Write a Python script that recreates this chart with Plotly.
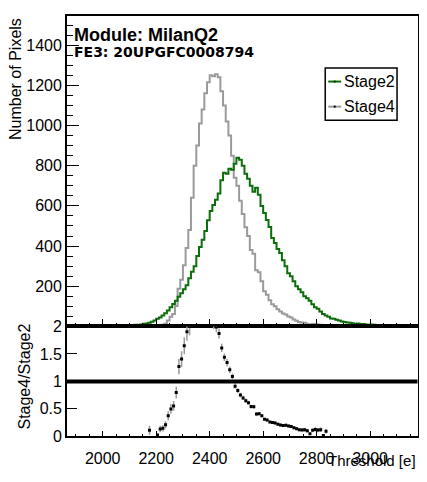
import math
import plotly.graph_objects as go

# ---------------- data ----------------
bin_low = list(range(2050, 3100, 10))  # lower bin edges, width 10
bin_width = 10

stage2 = [0, 2, 3, 4, 3, 5, 6, 8, 7, 10,
          13, 15, 18, 24, 30, 38, 45, 55, 66, 80,
          96, 112, 128, 148, 165, 185, 205, 240, 272, 300,
          350, 395, 432, 475, 528, 575, 605, 630, 662, 727,
          765, 760, 785, 780, 810, 840, 830, 800, 760, 735,
          700, 670, 690, 655, 600, 565, 530, 495, 440, 415,
          385, 365, 330, 300, 265, 250, 225, 200, 185, 170,
          150, 140, 128, 110, 95, 88, 75, 62, 55, 48,
          40, 38, 33, 30, 25, 22, 20, 18, 16, 14,
          15, 12, 12, 10, 9, 10, 8, 6, 7, 5,
          4, 3, 3, 2, 1]

stage4 = [0, 0, 0, 0, 0, 0, 0, 0, 0, 0,
          0, 0, 2, 0, 0, 1, 6, 8, 14, 30,
          48, 62, 102, 188, 232, 305, 390, 480, 640, 800,
          900, 1010, 1080, 1160, 1215, 1250, 1245, 1255, 1240, 1170,
          1100, 1020, 950, 850, 740, 700, 625, 560, 494, 450,
          380, 362, 280, 270, 225, 175, 158, 130, 110, 100,
          85, 75, 65, 60, 50, 45, 35, 28, 22, 20,
          18, 14, 6, 12, 12, 10, 9, 1, 5, 0,
          0, 0, 0, 0, 0, 0, 0, 0, 0, 0,
          0, 0, 0, 0, 0, 0, 0, 0, 0, 0,
          0, 0, 0, 0, 0]

series_names = ["Stage2", "Stage4"]
title_lines = ["Module: MilanQ2", "FE3: 20UPGFC0008794"]
x_title = "Threshold [e]"
y_title = "Number of Pixels"
ratio_title = "Stage4/Stage2"

x_tick_vals = [2000, 2200, 2400, 2600, 2800, 3000]
y_tick_vals = [0, 200, 400, 600, 800, 1000, 1200, 1400]
ratio_tick_vals = [0, 0.5, 1, 1.5, 2]
ratio_tick_text = ["0", "0.5", "1", "1.5", "2"]

x_range = [1866, 3177]
y_range = [0, 1545]
ratio_range = [0, 2]

# ---------------- geometry (page pixels; page body has an 8px margin) ----------------
OFF = 8
W, H = 427 - 2 * OFF, 482 - OFF
LEFT, RIGHT = 67, 418.5
TOP, SPLIT, BOTTOM = 8, 330, 444


def px(x):
    return (x - OFF) / W


def py(y):
    return 1 - (y - OFF) / H


GREEN = "#0b6e0b"
GREY = "#9a9a9a"
FONT = "Liberation Sans, Arial, sans-serif"


def step_xy(counts, trim=False):
    lo, hi = 0, len(counts) - 1
    if trim:
        nz = [i for i, c in enumerate(counts) if c > 0]
        lo, hi = nz[0], nz[-1]
    xs = [bin_low[i] for i in range(lo, hi + 1)] + [bin_low[hi] + bin_width]
    ys = [counts[i] for i in range(lo, hi + 1)] + [counts[hi]]
    return xs, ys


fig = go.Figure()

x4, y4 = step_xy(stage4, trim=True)
fig.add_trace(go.Scatter(x=x4, y=y4, mode="lines", line=dict(color=GREY, width=2, shape="hv"),
                         name=series_names[1], xaxis="x", yaxis="y", showlegend=False))
x2, y2 = step_xy(stage2)
fig.add_trace(go.Scatter(x=x2, y=y2, mode="lines", line=dict(color=GREEN, width=2, shape="hv"),
                         name=series_names[0], xaxis="x", yaxis="y", showlegend=False))

# ratio
rx, ry, re = [], [], []
for lo, a, b in zip(bin_low, stage4, stage2):
    if a > 0 and b > 0:
        r = a / b
        rx.append(lo + bin_width / 2)
        ry.append(r)
        re.append(r * math.sqrt(1 / a + 1 / b))

fig.add_trace(go.Scatter(x=rx, y=ry, mode="markers",
                         marker=dict(color="black", size=3, symbol="square"),
                         error_y=dict(type="data", array=re, visible=True, color=GREY, thickness=1.5, width=0),
                         xaxis="x2", yaxis="y2", showlegend=False, cliponaxis=True))

tickfont = dict(family=FONT, size=16, color="black")
common_axis = dict(showgrid=False, zeroline=False, showline=True, linecolor="black",
                   linewidth=1.5, mirror=True, ticks="inside", tickcolor="black", tickwidth=1)

fig.update_layout(
    width=W, height=H, autosize=False, margin=dict(l=0, r=0, t=0, b=0),
    paper_bgcolor="white", plot_bgcolor="white", showlegend=False,
    xaxis=dict(domain=[px(LEFT), px(RIGHT)], range=x_range, anchor="y",
               tickmode="array", tickvals=x_tick_vals, showticklabels=False, ticklen=8,
               minor=dict(ticks="inside", ticklen=4, tickmode="linear", tick0=2000, dtick=50,
                          tickcolor="black", tickwidth=1),
               **common_axis),
    yaxis=dict(domain=[py(SPLIT), py(TOP)], range=y_range, anchor="x",
               tickmode="array", tickvals=y_tick_vals,
               ticktext=["" if v == 0 else str(v) for v in y_tick_vals],
               ticklen=12, tickfont=tickfont,
               minor=dict(ticks="inside", ticklen=6, tickmode="linear", tick0=0, dtick=50,
                          tickcolor="black", tickwidth=1),
               **common_axis),
    xaxis2=dict(domain=[px(LEFT), px(RIGHT)], range=x_range, anchor="y2",
                tickmode="array", tickvals=x_tick_vals, ticklen=6, tickfont=tickfont,
                ticklabelstandoff=7,
                minor=dict(ticks="inside", ticklen=3, tickmode="linear", tick0=2000, dtick=50,
                           tickcolor="black", tickwidth=1),
                **common_axis),
    yaxis2=dict(domain=[py(BOTTOM), py(SPLIT)], range=ratio_range, anchor="x2",
                tickmode="array", tickvals=ratio_tick_vals, ticktext=ratio_tick_text,
                ticklen=10, tickfont=tickfont, **common_axis),
)

shapes = [
    dict(type="line", xref="paper", yref="y2", x0=px(LEFT), x1=px(RIGHT), y0=1, y1=1,
         line=dict(color="black", width=4)),
    dict(type="rect", xref="paper", yref="paper", x0=px(326), x1=px(398), y0=py(116), y1=py(62),
         line=dict(color="black", width=1.5), fillcolor="white", layer="above"),
    dict(type="line", xref="paper", yref="paper", x0=px(329), x1=px(342), y0=py(76), y1=py(76),
         line=dict(color=GREEN, width=2), layer="above"),
    dict(type="line", xref="paper", yref="paper", x0=px(329), x1=px(342), y0=py(102), y1=py(102),
         line=dict(color=GREY, width=2), layer="above"),
    dict(type="rect", xref="paper", yref="paper", x0=px(334.5), x1=px(336.5), y0=py(103), y1=py(101),
         line=dict(width=0), fillcolor="black", layer="above"),
    dict(type="rect", xref="paper", yref="paper", x0=px(334.5), x1=px(336.5), y0=py(77), y1=py(75),
         line=dict(width=0), fillcolor="#033a03", layer="above"),
]
fig.update_layout(shapes=shapes)

ann = []
ann.append(dict(text="<b>%s</b>" % title_lines[0], x=px(72), y=py(28), xref="paper", yref="paper",
                xanchor="left", yanchor="middle", showarrow=False,
                font=dict(family=FONT, size=18, color="black")))
ann.append(dict(text="<b>%s</b>" % title_lines[1], x=px(72), y=py(45.5), xref="paper", yref="paper",
                xanchor="left", yanchor="middle", showarrow=False,
                font=dict(family="DejaVu Sans, sans-serif", size=14, color="black")))
ann.append(dict(text=series_names[0], x=px(343), y=py(76), xref="paper", yref="paper",
                xanchor="left", yanchor="middle", showarrow=False,
                font=dict(family=FONT, size=16, color="black")))
ann.append(dict(text=series_names[1], x=px(343), y=py(102), xref="paper", yref="paper",
                xanchor="left", yanchor="middle", showarrow=False,
                font=dict(family=FONT, size=16, color="black")))
ann.append(dict(text=y_title, x=px(15), y=py(8), xref="paper", yref="paper", textangle=-90,
                xanchor="center", yanchor="top", showarrow=False,
                font=dict(family=FONT, size=16, color="black")))
ann.append(dict(text=ratio_title, x=px(25), y=py(382), xref="paper", yref="paper", textangle=-90,
                xanchor="center", yanchor="middle", showarrow=False,
                font=dict(family=FONT, size=16, color="black")))
ann.append(dict(text=x_title, x=px(419), y=py(469.5), xref="paper", yref="paper",
                xanchor="right", yanchor="middle", showarrow=False,
                font=dict(family=FONT, size=15, color="black")))
fig.update_layout(annotations=ann)

fig.write_html("out.html")
